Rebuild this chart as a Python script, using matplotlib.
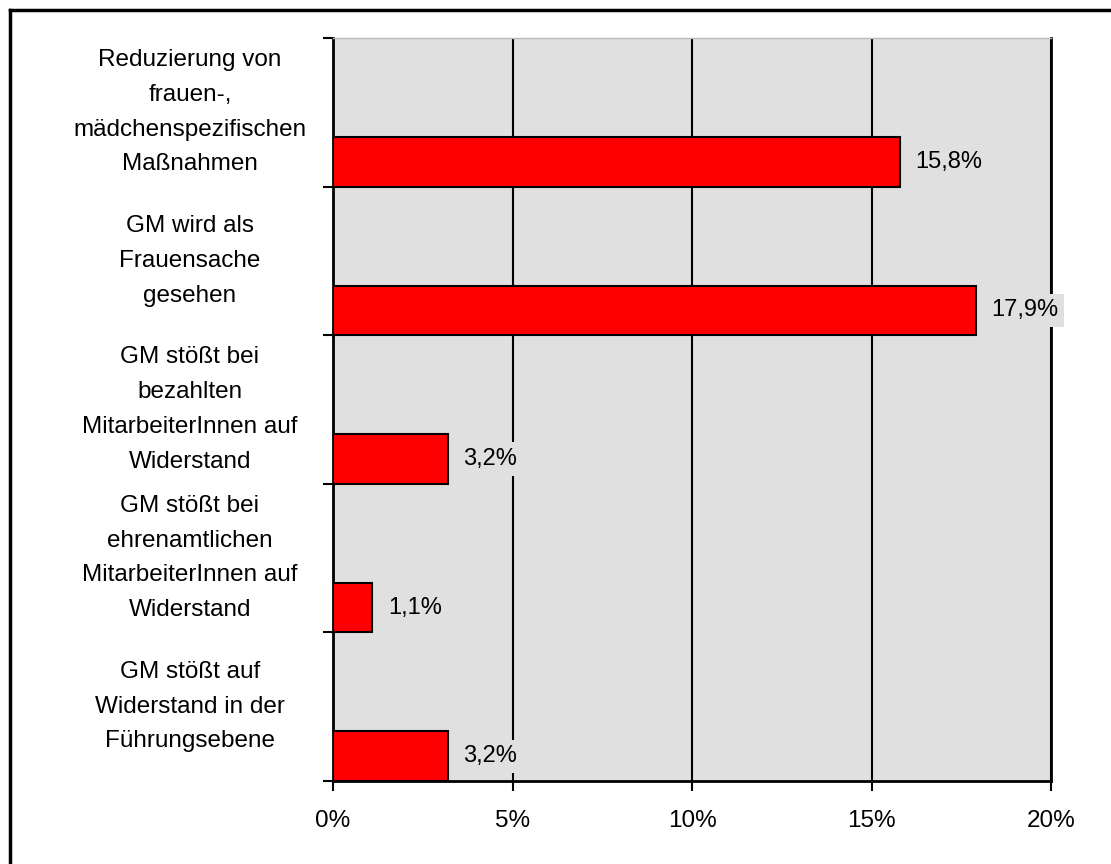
import numpy as np
import matplotlib
matplotlib.use("Agg")
import matplotlib.pyplot as plt
import matplotlib.transforms as mtransforms
from matplotlib.lines import Line2D

plt.rcParams['font.family'] = ['Liberation Sans', 'DejaVu Sans']

# data
categories = [
    "Reduzierung von\nfrauen-,\nmädchenspezifischen\nMaßnahmen",
    "GM wird als\nFrauensache\ngesehen",
    "GM stößt bei\nbezahlten\nMitarbeiterInnen auf\nWiderstand",
    "GM stößt bei\nehrenamtlichen\nMitarbeiterInnen auf\nWiderstand",
    "GM stößt auf\nWiderstand in der\nFührungsebene",
]
values = [15.8, 17.9, 3.2, 1.1, 3.2]
value_labels = ["15,8%", "17,9%", "3,2%", "1,1%", "3,2%"]
xticks = [0, 5, 10, 15, 20]
xtick_labels = ["0%", "5%", "10%", "15%", "20%"]

bg = '#e0e0e0'

fig = plt.figure(figsize=(11.11, 8.64), dpi=100)
ax = fig.add_axes([333 / 1111, 1 - 781 / 864, (1051 - 333) / 1111, (781 - 38) / 864])
ax.set_facecolor(bg)

n = len(categories)
pos = np.arange(n)

# gridlines
for x in xticks[1:]:
    ax.axvline(x, color='black', lw=1.5, zorder=1)

ax.barh(pos + 2 / 3, values, height=1 / 3, align='edge', color='#ff0000',
        edgecolor='black', linewidth=1.5, zorder=3)

for i, (v, lab) in enumerate(zip(values, value_labels)):
    ax.annotate(lab, xy=(v, i + 5 / 6), xytext=(11, 0), textcoords='offset points',
                ha='left', va='center', fontsize=17, zorder=4,
                bbox=dict(facecolor=bg, edgecolor='none', pad=4),
                annotation_clip=False)

trans = mtransforms.blended_transform_factory(fig.transFigure, ax.transData)
for i, cat in enumerate(categories):
    ax.text(190 / 1111, i + 0.5, cat, transform=trans, ha='center', va='center',
            fontsize=17.5, linespacing=1.75)

ax.set_xlim(0, 20)
ax.set_ylim(n, 0)
ax.set_xticks(xticks)
ax.set_xticklabels(xtick_labels, fontsize=17.5)
ax.set_yticks(np.arange(n + 1))
ax.set_yticklabels([])
ax.tick_params(axis='both', direction='out', length=7, width=1.5, color='black')
ax.tick_params(axis='x', pad=14)

ax.spines['top'].set_color('#bbbbbb')
ax.spines['top'].set_linewidth(1)
ax.spines['right'].set_linewidth(2)
ax.spines['left'].set_linewidth(2)
ax.spines['bottom'].set_linewidth(2)

# outer frame (left and top only, as cropped in the original)
fig.add_artist(Line2D([9.5 / 1111, 9.5 / 1111], [0, 1 - 9.5 / 864], transform=fig.transFigure,
                      color='black', lw=2.5))
fig.add_artist(Line2D([9.5 / 1111, 1], [1 - 9.5 / 864, 1 - 9.5 / 864], transform=fig.transFigure,
                      color='black', lw=2.5))

fig.savefig("out.png", dpi=100)
